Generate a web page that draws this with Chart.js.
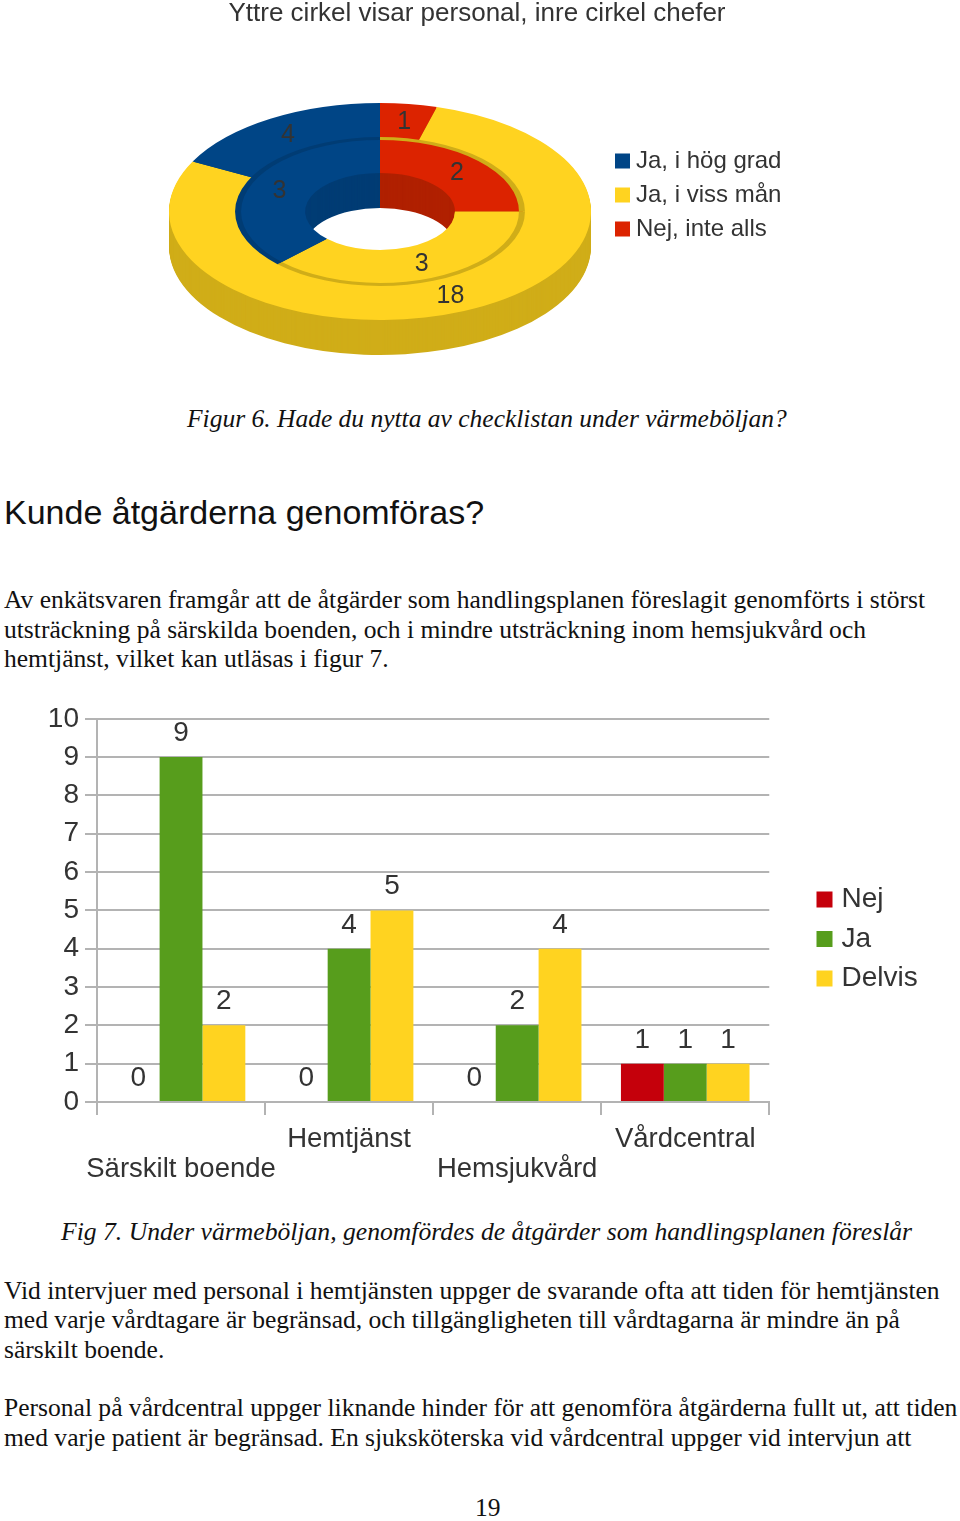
<!DOCTYPE html>
<html>
<head>
<meta charset="utf-8">
<script src="https://cdn.jsdelivr.net/npm/chart.js@4"></script>
<style>
  html, body { margin: 0; padding: 0; background: #fff; }
  body { position: relative; width: 960px; height: 1521px; overflow: hidden; }
  canvas { position: absolute; left: 0; filter: blur(0.6px); }
  .t { position: absolute; white-space: nowrap; color: #111; font: 25.56px/30px "Liberation Serif", serif; }
  .i { font-style: italic; }
  h2 { position: absolute; margin: 0; left: 4px; top: 490px; font: normal 34px/44px "Liberation Sans", sans-serif; color: #111; white-space: nowrap; }
</style>
</head>
<body>
<canvas id="ringChart" width="954" height="360" style="top:0"></canvas>
<div class="t i" style="left:187px;top:404px;font-size:25.5px">Figur 6. Hade du nytta av checklistan under värmeböljan?</div>
<h2>Kunde åtgärderna genomföras?</h2>
<div class="t" style="left:4px;top:585px">Av enkätsvaren framgår att de åtgärder som handlingsplanen föreslagit genomförts i störst</div>
<div class="t" style="left:4px;top:615px">utsträckning på särskilda boenden, och i mindre utsträckning inom hemsjukvård och</div>
<div class="t" style="left:4px;top:644px">hemtjänst, vilket kan utläsas i figur 7.</div>
<canvas id="barChart" width="960" height="494" style="top:696px"></canvas>
<div class="t i" style="left:61px;top:1217px;font-size:25.65px">Fig 7. Under värmeböljan, genomfördes de åtgärder som handlingsplanen föreslår</div>
<div class="t" style="left:4px;top:1276px">Vid intervjuer med personal i hemtjänsten uppger de svarande ofta att tiden för hemtjänsten</div>
<div class="t" style="left:4px;top:1305px">med varje vårdtagare är begränsad, och tillgängligheten till vårdtagarna är mindre än på</div>
<div class="t" style="left:4px;top:1335px">särskilt boende.</div>
<div class="t" style="left:4px;top:1393px">Personal på vårdcentral uppger liknande hinder för att genomföra åtgärderna fullt ut, att tiden</div>
<div class="t" style="left:4px;top:1423px">med varje patient är begränsad. En sjuksköterska vid vårdcentral uppger vid intervjun att</div>
<div class="t" style="left:475px;top:1493px">19</div>
<script>
const ringLabels = ['Nej, inte alls', 'Ja, i viss mån', 'Ja, i hög grad'];
const staffValues = [1, 18, 4];
const managerValues = [2, 3, 3];
const ringColors = ['#dc2300', '#ffd320', '#004586'];
const ringSideColors = ['#b02000', '#d0ad18', '#003c74'];

const categories = ['Särskilt boende', 'Hemtjänst', 'Hemsjukvård', 'Vårdcentral'];
const nejValues = [0, 0, 0, 1];
const jaValues = [9, 4, 2, 1];
const delvisValues = [2, 5, 4, 1];
const yTicks = [0, 1, 2, 3, 4, 5, 6, 7, 8, 9, 10];

const textColor = '#333';
const sans = '"Liberation Sans", sans-serif';
const gridColor = '#b3b3b3';

// moves the legend where the reference has it
const legendShift = {
  id: 'legendShift',
  afterLayout(chart, args, opts) {
    const l = chart.legend;
    l.left = opts.x; l.right = opts.x + l.width;
    const h = l.height;
    l.top = opts.y; l.bottom = opts.y + h;
  }
};

// flattens the doughnut to an ellipse and gives it a side wall
const squash = 0.514, wall = 35, ringX = 380, ringY = 211.5;
function flatten(ctx, arc) {
  ctx.translate(ringX, ringY);
  ctx.scale(1, squash);
  ctx.translate(-arc.x, -arc.y);
}
const ring3d = {
  id: 'ring3d',
  beforeDatasetsDraw(chart) {
    const ctx = chart.ctx;
    const metas = [chart.getDatasetMeta(0), chart.getDatasetMeta(1)];
    ctx.save();
    flatten(ctx, metas[0].data[0]);
    for (let d = wall; d > 0; d--) {
      metas.forEach(meta => {
        meta.data.forEach((arc, i) => {
          ctx.beginPath();
          ctx.arc(arc.x, arc.y + d / squash, arc.outerRadius, arc.startAngle, arc.endAngle);
          ctx.arc(arc.x, arc.y + d / squash, arc.innerRadius, arc.endAngle, arc.startAngle, true);
          ctx.closePath();
          ctx.fillStyle = ringSideColors[i];
          ctx.fill();
        });
      });
    }
  },
  afterDatasetsDraw(chart) {
    const ctx = chart.ctx;
    const outer = chart.getDatasetMeta(0);
    const inner = chart.getDatasetMeta(1);
    // groove between the two rings
    inner.data.forEach((arc, i) => {
      ctx.beginPath();
      ctx.arc(arc.x, arc.y, arc.outerRadius - 1, arc.startAngle, arc.endAngle);
      ctx.strokeStyle = i == 2 ? '#003c74' : '#d0ad18';
      ctx.lineWidth = 6;
      ctx.stroke();
    });
    ctx.restore();
    ctx.save();
    ctx.font = '25px ' + sans;
    ctx.fillStyle = textColor;
    ctx.textAlign = 'center';
    ctx.textBaseline = 'middle';
    [outer, inner].forEach((meta, m) => {
      const values = m == 0 ? staffValues : managerValues;
      meta.data.forEach((arc, i) => {
        const p = arc.getCenterPoint();
        ctx.fillText(values[i], ringX + p.x - arc.x, ringY + 1 + (p.y - arc.y) * squash);
      });
    });
    ctx.restore();
  }
};

new Chart(document.getElementById('ringChart'), {
  type: 'doughnut',
  data: {
    labels: ringLabels,
    datasets: [
      { data: staffValues, backgroundColor: ringColors, borderWidth: 0, clip: false },
      { data: managerValues, backgroundColor: ringColors, borderWidth: 0, clip: false }
    ]
  },
  options: {
    responsive: false,
    animation: false,
    radius: 211,
    cutout: '35.5%',
    plugins: {
      title: {
        display: true,
        text: 'Yttre cirkel visar personal, inre cirkel chefer',
        color: textColor,
        font: { family: sans, size: 26, weight: 'normal' },
        padding: { top: -2, bottom: 0 }
      },
      legend: {
        position: 'right',
        reverse: true,
        labels: {
          color: textColor,
          font: { family: sans, size: 24 },
          usePointStyle: true,
          pointStyle: 'rect',
          boxWidth: 3,
          boxHeight: 15,
          padding: 10
        }
      },
      tooltip: { enabled: false },
      legendShift: { x: 611, y: 15 }
    }
  },
  plugins: [ring3d, legendShift]
});

const barValueLabels = {
  id: 'barValueLabels',
  afterDatasetsDraw(chart) {
    const ctx = chart.ctx;
    ctx.save();
    ctx.font = '28px ' + sans;
    ctx.fillStyle = textColor;
    ctx.textAlign = 'center';
    ctx.textBaseline = 'alphabetic';
    chart.data.datasets.forEach((ds, k) => {
      chart.getDatasetMeta(k).data.forEach((bar, i) => {
        ctx.fillText(ds.data[i], bar.x, bar.y - 16);
      });
    });
    ctx.restore();
  }
};

new Chart(document.getElementById('barChart'), {
  type: 'bar',
  data: {
    labels: categories,
    datasets: [
      { label: 'Nej', data: nejValues, backgroundColor: '#c5000b' },
      { label: 'Ja', data: jaValues, backgroundColor: '#579d1c' },
      { label: 'Delvis', data: delvisValues, backgroundColor: '#ffd320' }
    ]
  },
  options: {
    responsive: false,
    animation: false,
    layout: { padding: { top: 14, right: 73, left: 0, bottom: 0 } },
    datasets: { bar: { categoryPercentage: 0.765, barPercentage: 1 } },
    scales: {
      x: {
        grid: {
          color: ctx => (ctx.index === 0 || ctx.index === categories.length) ? gridColor : 'transparent',
          tickColor: gridColor,
          lineWidth: 2,
          tickLength: 13
        },
        border: { color: gridColor, width: 2 },
        ticks: {
          autoSkip: false,
          maxRotation: 0,
          color: textColor,
          padding: 9,
          font: { family: sans, size: 27.5, lineHeight: 1.1 },
          callback: function (v, i) { return i % 2 == 0 ? ['', categories[i]] : categories[i]; }
        },
        afterFit(scale) { scale.height = 88; }
      },
      y: {
        min: 0,
        max: 10,
        afterBuildTicks(scale) { scale.ticks = yTicks.map(v => ({ value: v })); },
        grid: { color: gridColor, lineWidth: 2, tickLength: 12 },
        border: { color: gridColor, width: 2 },
        ticks: { color: textColor, padding: 6, font: { family: sans, size: 28 } },
        afterFit(scale) { scale.width = 97; }
      }
    },
    plugins: {
      legend: {
        position: 'right',
        labels: {
          color: textColor,
          font: { family: sans, size: 28 },
          usePointStyle: true,
          pointStyle: 'rect',
          boxWidth: 6,
          boxHeight: 16,
          padding: 11.5
        }
      },
      tooltip: { enabled: false },
      legendShift: { x: 810, y: 3 }
    }
  },
  plugins: [barValueLabels, legendShift]
});
</script>
</body>
</html>
